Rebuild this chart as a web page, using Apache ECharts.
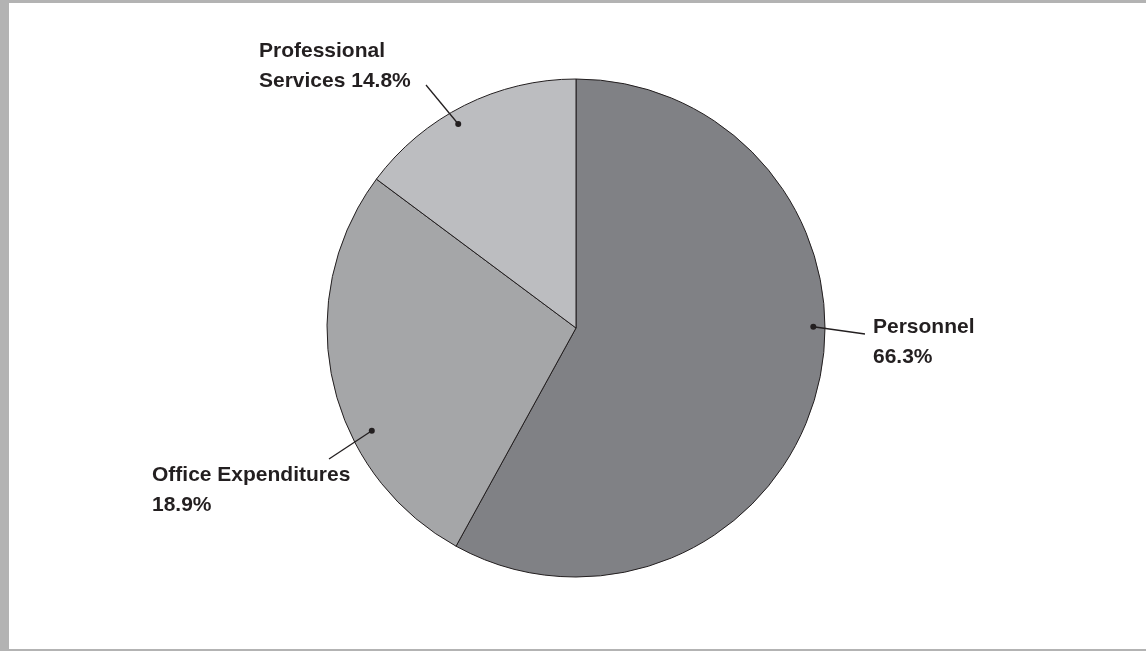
<!DOCTYPE html>
<html>
<head>
<meta charset="utf-8">
<style>
  html, body { margin: 0; padding: 0; background: #ffffff; }
  #chart { width: 1146px; height: 651px; }
</style>
<script src="https://cdn.jsdelivr.net/npm/echarts@6/dist/echarts.min.js"></script>
</head>
<body>
<div id="chart"></div>
<script>
// ---- data ----
const categories = ['Personnel', 'Office Expenditures', 'Professional Services'];
// share of the circle each slice occupies as drawn
const sliceValues = [58.0, 27.2, 14.8];
// label text as printed on the chart
const labelTexts = ['Personnel\n66.3%', 'Office Expenditures\n18.9%', 'Professional\nServices 14.8%'];
// where each leader line's dot sits: angle (deg, clockwise from 12 o'clock) and fraction of radius
const dotAngles = [89.7, 243.3, 330.0];
const dotRadii = [0.953, 0.918, 0.946];

// ---- layout / style ----
const sliceColors = ['#808185', '#a5a6a8', '#bcbdc0'];
const CX = 576, CY = 328, R = 249;
const labelPlace = [
  { x: 873, y: 312, lineEnd: [865, 334] },
  { x: 152, y: 460, lineEnd: [329, 459] },
  { x: 259, y: 36,  lineEnd: [426, 85] }
];
const ink = '#231f20';

const chart = echarts.init(document.getElementById('chart'), null, { renderer: 'canvas' });
chart.setOption({
  animation: false,
  backgroundColor: '#ffffff',
  graphic: [
    { type: 'rect', left: 0, top: 0, shape: { width: 9, height: 651 }, style: { fill: '#b3b3b3' }, silent: true },
    { type: 'rect', left: 0, top: 0, shape: { width: 1146, height: 3 }, style: { fill: '#b3b3b3' }, silent: true },
    { type: 'rect', left: 0, top: 649, shape: { width: 1146, height: 2 }, style: { fill: '#b3b3b3' }, silent: true }
  ],
  polar: { center: [CX, CY], radius: R },
  angleAxis: { type: 'value', min: 0, max: 360, startAngle: 90, clockwise: true, show: false },
  radiusAxis: { type: 'value', min: 0, max: 1, show: false },
  series: [
    {
      type: 'pie',
      center: [CX, CY],
      radius: R,
      startAngle: 90,
      clockwise: true,
      silent: true,
      avoidLabelOverlap: false,
      data: categories.map((name, i) => ({
        name: name,
        value: sliceValues[i],
        itemStyle: { color: sliceColors[i] }
      })),
      itemStyle: { borderColor: ink, borderWidth: 1 },
      label: {
        show: true,
        position: 'outside',
        formatter: p => labelTexts[p.dataIndex],
        fontFamily: 'Liberation Sans, Arial, sans-serif',
        fontWeight: 'bold',
        fontSize: 21,
        lineHeight: 30,
        color: ink
      },
      labelLine: { show: false },
      labelLayout: function (params) {
        const p = labelPlace[params.dataIndex];
        return { x: p.x, y: p.y, align: 'left', verticalAlign: 'top' };
      }
    },
    {
      // leader lines with their dots, placed through the polar coordinate system
      type: 'custom',
      coordinateSystem: 'polar',
      silent: true,
      z: 10,
      data: dotAngles.map((a, i) => [dotRadii[i], a]),
      renderItem: function (params, api) {
        const pt = api.coord([api.value(0), api.value(1)]);
        const end = labelPlace[params.dataIndex].lineEnd;
        return {
          type: 'group',
          children: [
            {
              type: 'line',
              shape: { x1: pt[0], y1: pt[1], x2: end[0], y2: end[1] },
              style: { stroke: ink, lineWidth: 1.3 }
            },
            {
              type: 'circle',
              shape: { cx: pt[0], cy: pt[1], r: 3 },
              style: { fill: ink }
            }
          ]
        };
      }
    }
  ]
});
</script>
</body>
</html>
